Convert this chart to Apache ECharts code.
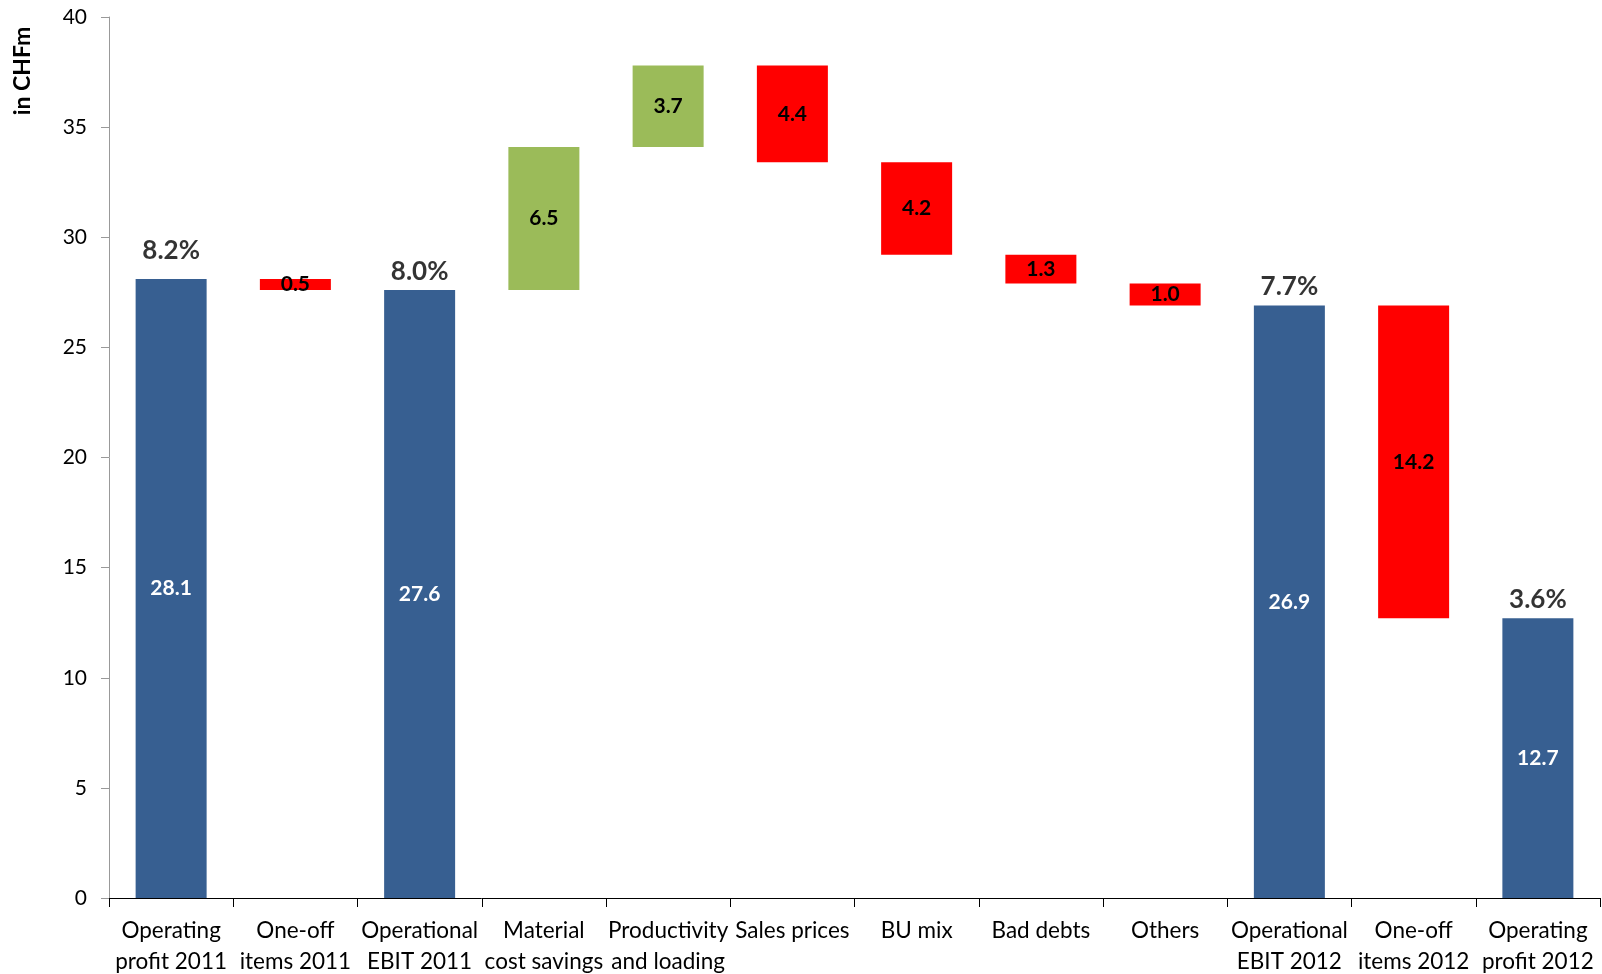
<!DOCTYPE html>
<html>
<head>
<meta charset="utf-8">
<script src="https://cdn.jsdelivr.net/npm/echarts@6/dist/echarts.min.js"></script>
<style>
html,body{margin:0;padding:0;background:#fff;}
#chart{width:1602px;height:974px;}
</style>
</head>
<body>
<div id="chart"></div>
<script>
// ---- data ----
const categories = [
  'Operating\nprofit 2011', 'One-off\nitems 2011', 'Operational\nEBIT 2011',
  'Material\ncost savings', 'Productivity\nand loading', 'Sales prices',
  'BU mix', 'Bad debts', 'Others', 'Operational\nEBIT 2012',
  'One-off\nitems 2012', 'Operating\nprofit 2012'
];
// 'total' bars are absolute levels; others are changes
const kinds = ['total','change','total','change','change','change','change','change','change','total','change','total'];
const values = [28.1, -0.5, 27.6, 6.5, 3.7, -4.4, -4.2, -1.3, -1.0, 26.9, -14.2, 12.7];
const margins = ['8.2%', null, '8.0%', null, null, null, null, null, null, '7.7%', null, '3.6%'];
const yTicks = [0, 5, 10, 15, 20, 25, 30, 35, 40];

// ---- build waterfall table ----
const baseData = [], totalData = [], upData = [], downData = [], pctData = [];
let level = 0;
values.forEach((v, i) => {
  if (kinds[i] === 'total') {
    level = v;
    baseData.push(0); totalData.push(v); upData.push('-'); downData.push('-');
    pctData.push(margins[i] ? [i, v] : null);
  } else if (v >= 0) {
    baseData.push(level); upData.push(v); downData.push('-'); totalData.push('-');
    level += v; pctData.push(null);
  } else {
    level += v;
    baseData.push(level); downData.push(-v); upData.push('-'); totalData.push('-');
    pctData.push(null);
  }
});

const FONT = 'Lato, "Open Sans", sans-serif';
const chart = echarts.init(document.getElementById('chart'));
const valLabel = (color) => ({
  show: true, position: 'inside', color: color, fontWeight: 'bold',
  fontSize: 21, fontFamily: FONT,
  formatter: p => Number(p.value).toFixed(1)
});
chart.setOption({
  animation: false,
  grid: {left: 109, right: 2, top: 17, bottom: 76, containLabel: false, outerBoundsMode: 'none'},
  xAxis: {
    type: 'category', data: categories,
    axisLine: {lineStyle: {color: '#000', width: 1}},
    axisTick: {show: true, length: 9, lineStyle: {color: '#000'}},
    axisLabel: {interval: 0, color: '#000', fontSize: 22.5, fontFamily: FONT, lineHeight: 31, margin: 17}
  },
  yAxis: {
    type: 'value', min: 0, max: 40, interval: 5,
    axisLine: {show: true, lineStyle: {color: '#999'}},
    axisTick: {show: true, length: 8, lineStyle: {color: '#999'}},
    splitLine: {show: false},
    axisLabel: {color: '#000', fontSize: 21, fontFamily: FONT, margin: 22,
      formatter: v => yTicks.includes(v) ? String(v) : ''}
  },
  graphic: [{
    type: 'text', x: 23, y: 71, rotation: Math.PI / 2,
    style: {text: 'in CHFm', fontSize: 23, fontWeight: 'bold', fontFamily: FONT,
      fill: '#000', align: 'center', verticalAlign: 'middle'}
  }],
  series: [
    {type: 'bar', stack: 'w', data: baseData, barWidth: 71,
     itemStyle: {color: 'transparent'}, silent: true},
    {type: 'bar', stack: 'w', data: totalData, barWidth: 71,
     itemStyle: {color: '#375F91'}, label: valLabel('#fff')},
    {type: 'bar', stack: 'w', data: upData, barWidth: 71,
     itemStyle: {color: '#9BBB59'}, label: valLabel('#000')},
    {type: 'bar', stack: 'w', data: downData, barWidth: 71,
     itemStyle: {color: '#FF0000'}, label: valLabel('#000')},
    {type: 'scatter',
     data: pctData.map((d, i) => d ? {value: d, name: margins[i],
       label: {distance: i === 0 ? 15 : 6}} : '-'),
     symbolSize: 0,
     label: {show: true, position: 'top', distance: 6, color: '#000', fontWeight: 'bold',
       fontSize: 26, fontFamily: FONT, formatter: p => p.name}}
  ]
});
</script>
</body>
</html>
